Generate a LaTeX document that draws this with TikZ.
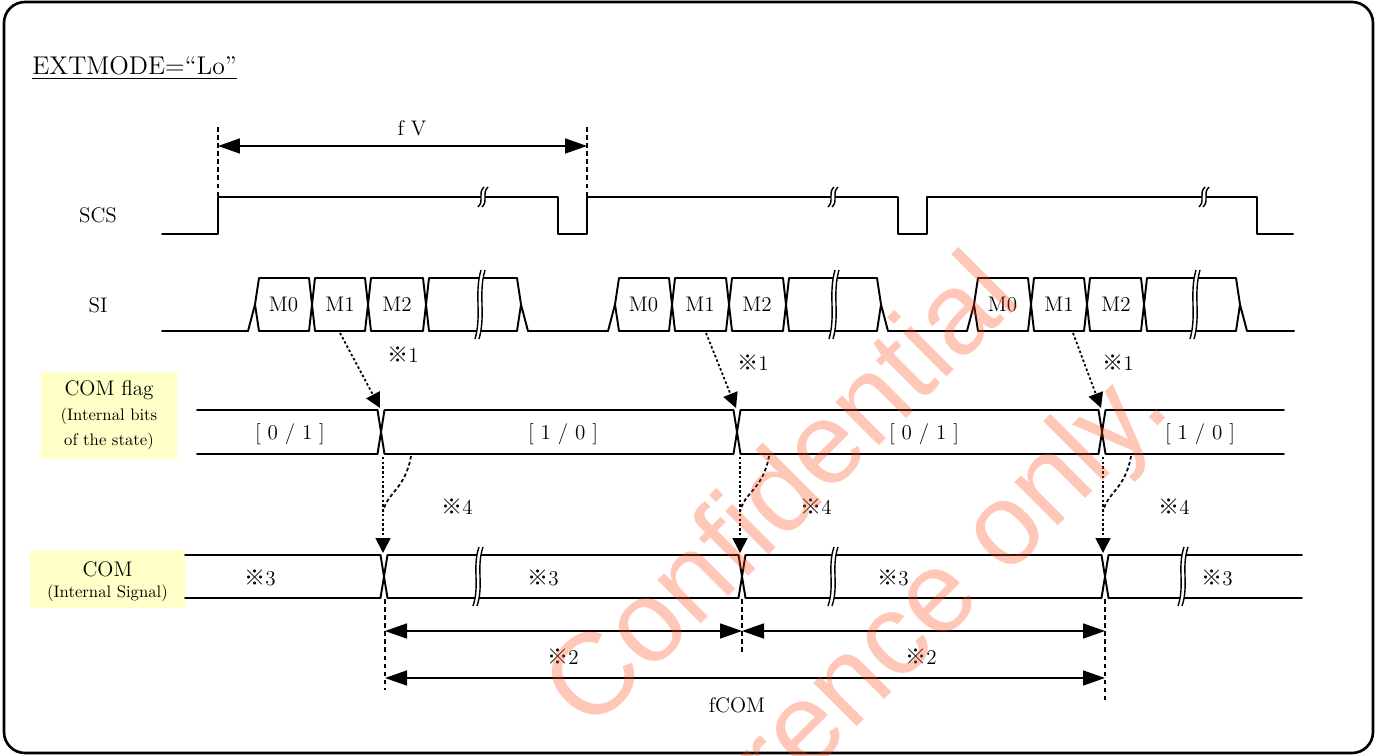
\documentclass[tikz,border=0pt]{standalone}
\usepackage{fontspec}
\newfontfamily\cjk{Noto Sans CJK JP}
\newfontfamily\wmfont{Liberation Sans}
\usetikzlibrary{arrows.meta}
\newcommand\kome{{\cjk ※}}
\definecolor{lblyellow}{RGB}{255,255,200}
\definecolor{wmred}{RGB}{255,70,20}
% break mark: center x, top y, bottom y
\newcommand\bmark[3]{%
  \fill[white] ({#1+1},#2) .. controls ({#1-6},{#2+0.35*(#3-#2)}) and ({#1+2},{#2+0.65*(#3-#2)}) .. ({#1-5},#3)
     -- ({#1-1},#3) .. controls ({#1+6},{#2+0.65*(#3-#2)}) and ({#1-2},{#2+0.35*(#3-#2)}) .. ({#1+5},#2) -- cycle;
  \draw[brkline] ({#1+1},#2) .. controls ({#1-6},{#2+0.35*(#3-#2)}) and ({#1+2},{#2+0.65*(#3-#2)}) .. ({#1-5},#3);
  \draw[brkline] ({#1+5},#2) .. controls ({#1-2},{#2+0.35*(#3-#2)}) and ({#1+6},{#2+0.65*(#3-#2)}) .. ({#1-1},#3);
}
% SI bus group: s t1 t2 t3 break e
\newcommand\busgrp[6]{%
  \draw[wave] ({#1-7},331) -- (#1,304.5) -- ({#1+4},278) -- ({#2-3},278) -- ({#2+3},331) -- ({#3-3},331) -- ({#3+3},278) -- ({#4-3},278) -- ({#4+3},331) -- ({#6-4},331) -- (#6,304.5) -- ({#6+7},331);
  \draw[wave] (#1,304.5) -- ({#1+4},331) -- ({#2-3},331) -- ({#2+3},278) -- ({#3-3},278) -- ({#3+3},331) -- ({#4-3},331) -- ({#4+3},278) -- ({#6-4},278) -- (#6,304.5);
  \bmark{#5}{270}{339}
}
\begin{document}
\begin{tikzpicture}[x=0.02cm,y=-0.02cm,
  wave/.style={line width=1.1pt, line join=round, line cap=round},
  brkline/.style={line width=0.8pt},
  dim/.style={line width=0.9pt, {Triangle[length=0.44cm,width=0.3cm]}-{Triangle[length=0.44cm,width=0.3cm]}},
  guide/.style={line width=0.7pt, dash pattern=on 2.6pt off 2pt},
  dotarr/.style={line width=1pt, dash pattern=on 1.4pt off 1.3pt, -{Triangle[length=0.3cm,width=0.3cm]}},
  dashcurve/.style={line width=1pt, dash pattern=on 2pt off 1.5pt},
  t12/.style={inner sep=0pt, font=\fontsize{12}{14}\selectfont},
  t9/.style={inner sep=0pt, font=\fontsize{9.5}{11}\selectfont},
  ybox/.style={fill=lblyellow, inner sep=0pt},
  wm/.style={inner sep=0pt, text=wmred, text opacity=0.3, font=\wmfont\fontsize{66}{72}\selectfont}
]
\useasboundingbox (0,0) rectangle (1378,756);
% frame
\draw[line width=1.5pt, rounded corners=0.42cm] (4,2) rectangle (1373,753);

% title
\node[inner sep=0pt, anchor=base west, font=\fontsize{14.6}{17}\selectfont] (title) at (32,75) {\underline{EXTMODE=“Lo”}};

% signal labels
\node[t12] (scs) at (98,215) {SCS};
\node[t12] (si) at (98,305) {SI};
\node[ybox, minimum width=2.72cm, minimum height=1.74cm] (flagbox) at (109,415.5) {};
\node[t12] (flagt) at (109,390) {COM flag};
\node[t9] (flagt2) at (109,416) {(Internal bits};
\node[t9] (flagt3) at (109,441) {of the state)};
\node[ybox, minimum width=3.1cm, minimum height=1.16cm] (combox) at (107.5,579) {};
\node[t12] (comt) at (107.5,569) {COM};
\node[t9] (comt2) at (107.5,593) {(Internal Signal)};

% SCS waveform
\draw[wave] (162,234) -- (218,234) -- (218,197) -- (558,197) -- (558,234) -- (587,234) -- (587,197) -- (898,197) -- (898,234) -- (927,234) -- (927,197) -- (1257,197) -- (1257,234) -- (1293,234);
\bmark{483}{187}{207}
\bmark{833}{187}{207}
\bmark{1204}{187}{207}

% fV dimension
\coordinate (fvl) at (218,146);
\coordinate (fvr) at (587,146);
\coordinate (fvlt) at (218,127);
\coordinate (fvlb) at (218,197);
\coordinate (fvrt) at (587,127);
\coordinate (fvrb) at (587,197);
\draw[guide] (fvlt) -- (fvlb);
\draw[guide] (fvrt) -- (fvrb);
\draw[dim] (fvl) -- (fvr);
\node[t12] (fv) at (412,128) {f V};

% SI waveform
\draw[wave] (162,331) -- (248,331);
\draw[wave] (528,331) -- (608,331);
\draw[wave] (888,331) -- (967,331);
\draw[wave] (1247,331) -- (1294,331);
\busgrp{255}{312}{368}{426}{480}{521}
\busgrp{615}{672}{729}{786}{834}{881}
\busgrp{974}{1031}{1087}{1144}{1195}{1240}
\foreach \o/\n in {0/a,360/b,719/c}{
  \node[t12] (m0\n) at ({283.5+\o},304.5) {M0};
  \node[t12] (m1\n) at ({340+\o},304.5) {M1};
  \node[t12] (m2\n) at ({397+\o},304.5) {M2};
}

% COM flag waveform
\draw[wave] (197,410) -- (377.5,410) -- (384.5,454) -- (733.5,454) -- (740.5,410) -- (1098.5,410) -- (1105.5,454) -- (1284,454);
\draw[wave] (197,454) -- (377.5,454) -- (384.5,410) -- (733.5,410) -- (740.5,454) -- (1098.5,454) -- (1105.5,410) -- (1284,410);
\node[t12] (f1) at (290,434) {[ 0 / 1 ]};
\node[t12] (f2) at (563,434) {[ 1 / 0 ]};
\node[t12] (f3) at (924,434) {[ 0 / 1 ]};
\node[t12] (f4) at (1200,434) {[ 1 / 0 ]};

% COM waveform
\draw[wave] (185,555) -- (380.5,555) -- (387.5,598) -- (738.5,598) -- (745.5,555) -- (1101.5,555) -- (1108.5,598) -- (1302,598);
\draw[wave] (185,598) -- (380.5,598) -- (387.5,555) -- (738.5,555) -- (745.5,598) -- (1101.5,598) -- (1108.5,555) -- (1302,555);
\bmark{478}{547}{606}
\bmark{833}{547}{606}
\bmark{1183}{547}{606}
\node[t12] (c1) at (260,578) {\kome3};
\node[t12] (c2) at (543,578) {\kome3};
\node[t12] (c3) at (893,578) {\kome3};
\node[t12] (c4) at (1217,578) {\kome3};

% SI -> COM flag arrows
\coordinate (sa1) at (340,333); \coordinate (ta1) at (380,408);
\coordinate (sa2) at (706,333); \coordinate (ta2) at (736,408);
\coordinate (sa3) at (1073,333); \coordinate (ta3) at (1101,408);
\draw[dotarr] (sa1) -- (ta1);
\draw[dotarr] (sa2) -- (ta2);
\draw[dotarr] (sa3) -- (ta3);
\node[t12] (k1a) at (403,355) {\kome1};
\node[t12] (k1b) at (753,363) {\kome1};
\node[t12] (k1c) at (1118,363) {\kome1};

% COM flag -> COM arrows
\foreach \x/\cx/\n in {383/411/a,740/769/b,1103/1131/c}{
  \coordinate (vs\n) at (\x,457);
  \coordinate (vt\n) at (\x,553);
  \coordinate (cs\n) at (\cx,456);
  \coordinate (cm\n) at (\x,512);
  \draw[dotarr] (vs\n) -- (vt\n);
  \draw[dashcurve] (cs\n) .. controls ({\cx-6},490) and ({\x+4},492) .. (cm\n);
}
\node[t12] (k4a) at (457,507) {\kome4};
\node[t12] (k4b) at (816,507) {\kome4};
\node[t12] (k4c) at (1174,507) {\kome4};

% bottom dimensions
\coordinate (gl1) at (385,599); \coordinate (gl2) at (385,690);
\coordinate (gm1) at (742,599); \coordinate (gm2) at (742,654);
\coordinate (gr1) at (1105,599); \coordinate (gr2) at (1105,700);
\draw[guide] (gl1) -- (gl2);
\draw[guide] (gm1) -- (gm2);
\draw[guide] (gr1) -- (gr2);
\coordinate (d1l) at (385,631); \coordinate (d1m) at (742,631); \coordinate (d1r) at (1105,631);
\draw[dim] (d1l) -- (d1m);
\draw[dim] (d1m) -- (d1r);
\coordinate (d2l) at (385,678); \coordinate (d2r) at (1105,678);
\draw[dim] (d2l) -- (d2r);
\node[t12] (k2a) at (563,657) {\kome2};
\node[t12] (k2b) at (921,657) {\kome2};
\node[t12] (fcom) at (737,705) {fCOM};

% watermark
\node[wm, rotate=45] (wm1) at (778,488) {Confidential};
\node[wm, rotate=45, anchor=base east] (wm2) at (1174,410) {Reference only.};
\end{tikzpicture}
\end{document}
